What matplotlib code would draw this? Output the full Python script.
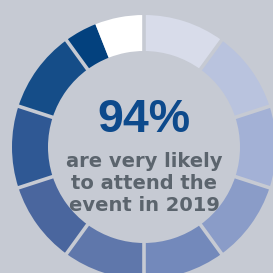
import numpy as np
import matplotlib.pyplot as plt

# share of respondents, one ring segment per 10%, last one split
shares = [10, 10, 10, 10, 10, 10, 10, 10, 10, 4, 6]
colors = ['#d8dcea', '#b9c3de', '#a3b1d6', '#8a9cc8', '#7389bb',
          '#5f77ab', '#4a669e', '#2f5894', '#154d88', '#03417e', '#ffffff']
headline = '94%'
caption = ['are very likely', 'to attend the', 'event in 2019']

bg = '#c6cad3'
cx, cy = 144, 126
r_out, ring = 132, 36

fig = plt.figure(figsize=(2.73, 2.73), dpi=100, facecolor=bg)
ax = fig.add_axes([0, 0, 1, 1])
ax.set_facecolor(bg)

ax.pie(shares, colors=colors, startangle=90, counterclock=False,
       center=(cx, cy), radius=r_out, frame=True,
       wedgeprops=dict(width=ring, linewidth=0))
ax.set_xlim(0, 273)
ax.set_ylim(0, 273)
ax.set_aspect('equal')
ax.axis('off')

# gaps every 10 percentage points
for pct in range(0, 100, 10):
    ang = np.deg2rad(90 - pct * 3.6)
    rr = np.array([r_out - ring - 2, r_out + 2])
    ax.plot(cx + rr * np.cos(ang), cy + rr * np.sin(ang),
            color=bg, lw=2.6, solid_capstyle='butt')

ax.text(cx, 141, headline, ha='center', va='baseline', fontsize=33.5,
        fontweight='bold', color='#0d4a8c', family='Liberation Sans')
for i, line in enumerate(caption):
    ax.text(cx, 106 - i * 22, line, ha='center', va='baseline', fontsize=14,
            fontweight='bold', color='#5b646d', family='DejaVu Sans')

fig.savefig('out.png', dpi=100, facecolor=bg)
